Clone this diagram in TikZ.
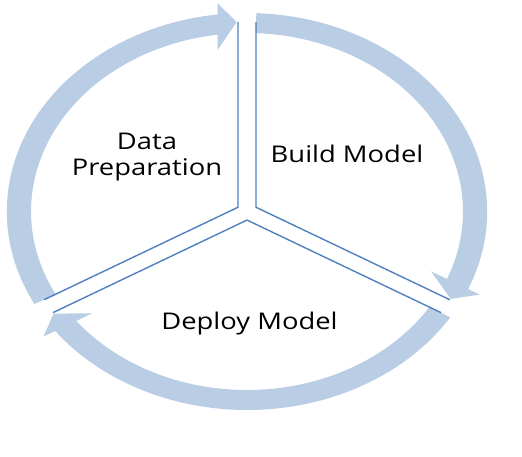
\documentclass[tikz,border=0pt]{standalone}
\usepackage{fontspec}
\setmainfont{Open Sans}
\definecolor{arrowfill}{HTML}{B9CDE5}
\definecolor{segline}{HTML}{4F81BD}
\tikzset{
  cyclearrowfill/.style={fill=arrowfill, draw=none},
  segmentline/.style={draw=segline, line width=1.4pt, line join=miter},
  labeltext/.style={font=\fontsize{23}{25.7}\selectfont, text=black, xscale=1.19, align=center, inner sep=0pt}
}
\begin{document}
\begin{tikzpicture}[x=1pt,y=1pt]
\useasboundingbox (0,0) rectangle (522,-456);
\begin{scope}[shift={(247,-211.5)}, xscale=1.21]
  \foreach \r in {0,-120,-240}{
    \begin{scope}[rotate=\r]
      \fill[cyclearrowfill] (207.76:198.5) arc[start angle=207.76, end angle=97.0, radius=198.5]
        -- (96.63:209.5) -- (92.57:189.7) -- (98.51:163.5) -- (97.8:178.5)
        arc[start angle=97.8, end angle=207.76, radius=178.5] -- cycle;
    \end{scope}
  }
  \foreach \r/\n in {0/dp,-120/bm,-240/dm}{
    \begin{scope}[rotate=\r]
      \coordinate (\n-a) at (92.24:189.5);
      \coordinate (\n-c) at (150:8.55);
      \coordinate (\n-b) at (207.76:189.5);
      \draw[segmentline] (\n-a) -- (\n-c) -- (\n-b);
    \end{scope}
  }
\end{scope}
\node[labeltext, anchor=base] (dptext) at (147,-175) {Data\\Preparation};
\node[labeltext, anchor=base] (bmtext) at (347,-162.7) {Build Model};
\node[labeltext, anchor=base] (dmtext) at (249.5,-329) {Deploy Model};
\end{tikzpicture}
\end{document}
